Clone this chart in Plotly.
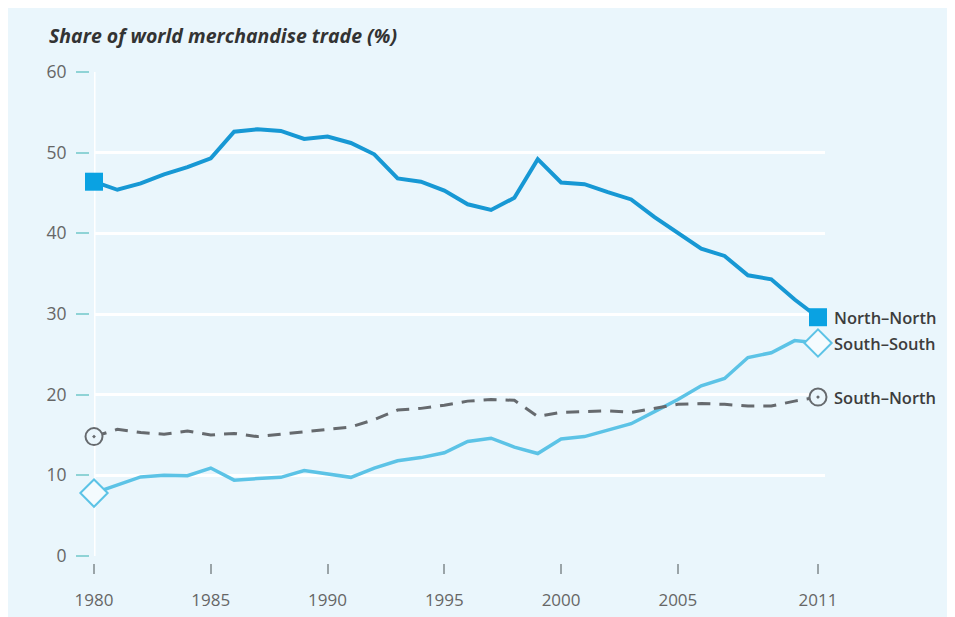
import plotly.graph_objects as go

years = list(range(1980, 2012))
north_north = [46.4, 45.4, 46.2, 47.3, 48.2, 49.3, 52.6, 52.9, 52.7, 51.7, 52.0, 51.2,
               49.8, 46.8, 46.4, 45.3, 43.6, 42.9, 44.4, 49.2, 46.3, 46.1, 45.1, 44.2,
               42.0, 40.1, 38.1, 37.2, 34.8, 34.3, 31.8, 29.6]
south_south = [7.8, 8.8, 9.8, 10.0, 9.95, 10.9, 9.4, 9.6, 9.75, 10.6, 10.2, 9.75,
               10.9, 11.8, 12.2, 12.8, 14.2, 14.6, 13.5, 12.7, 14.5, 14.8, 15.6, 16.4,
               17.9, 19.4, 21.1, 22.0, 24.6, 25.2, 26.7, 26.4]
south_north = [14.8, 15.7, 15.3, 15.1, 15.5, 15.0, 15.2, 14.8, 15.1, 15.4, 15.7, 16.0,
               16.9, 18.1, 18.3, 18.7, 19.2, 19.4, 19.3, 17.3, 17.8, 17.9, 18.0, 17.8,
               18.3, 18.8, 18.9, 18.8, 18.6, 18.6, 19.2, 19.7]
series_names = ["North\u2013North", "South\u2013South", "South\u2013North"]
x_tickvals = [1980, 1985, 1990, 1995, 2000, 2005, 2011]
y_tickvals = [0, 10, 20, 30, 40, 50, 60]
title_text = "Share of world merchandise trade (%)"

BG = "#eaf6fc"
NN_LINE = "#1798d4"
NN_MARK = "#0aa2e2"
SS_LINE = "#5cc3e6"
SN_LINE = "#666a6e"

fig = go.Figure()

fig.add_trace(go.Scatter(x=years, y=north_north, mode="lines",
                         line=dict(color=NN_LINE, width=4), cliponaxis=False, hoverinfo="skip"))
fig.add_trace(go.Scatter(x=years, y=south_south, mode="lines",
                         line=dict(color=SS_LINE, width=3.5), cliponaxis=False, hoverinfo="skip"))
fig.add_trace(go.Scatter(x=years, y=south_north, mode="lines",
                         line=dict(color=SN_LINE, width=3, dash="13px,9px"), cliponaxis=False,
                         hoverinfo="skip"))

ends = [0, -1]
fig.add_trace(go.Scatter(x=[years[i] for i in ends], y=[north_north[i] for i in ends], mode="markers",
                         marker=dict(symbol="square", size=18, color=NN_MARK, line=dict(width=0)),
                         cliponaxis=False))
fig.add_trace(go.Scatter(x=[years[i] for i in ends], y=[south_south[i] for i in ends], mode="markers",
                         marker=dict(symbol="diamond", size=21, color="#f4fbfe",
                                     line=dict(color=SS_LINE, width=2)),
                         cliponaxis=False))
fig.add_trace(go.Scatter(x=[years[i] for i in ends], y=[south_north[i] for i in ends], mode="markers",
                         marker=dict(symbol="circle-dot", size=17, color=BG,
                                     line=dict(color=SN_LINE, width=2)),
                         cliponaxis=False))

# end labels
for name, vals in zip(series_names, [north_north, south_south, south_north]):
    fig.add_annotation(x=years[-1], y=vals[-1], text=name, showarrow=False,
                       xanchor="left", yanchor="middle", xshift=14,
                       font=dict(family="Open Sans", size=16.5, color="#3d3d3d", weight=600))

W, H = 947, 609
L, R, T, B = 81, 130, 64, 54
pw, ph = W - L - R, H - T - B

# title
fig.add_annotation(xref="paper", yref="paper", x=(39 - L) / pw, y=(H - B - 27) / ph,
                   text=title_text, showarrow=False, xanchor="left", yanchor="middle",
                   font=dict(family="Open Sans", size=19.5, color="#333333", weight="bold",
                             style="italic"))

# white vertical axis line at 1980
fig.add_shape(type="line", xref="x", yref="y", x0=years[0], x1=years[0], y0=0, y1=60,
              line=dict(color="white", width=3), layer="below")

fig.update_layout(
    width=W, height=H,
    margin=dict(l=L, r=R, t=T, b=B, pad=0, autoexpand=False),
    paper_bgcolor=BG, plot_bgcolor=BG,
    showlegend=False,
    font=dict(family="Open Sans", color="#666666"),
    xaxis=dict(domain=[5 / pw, 1], range=[1980, 2011.3], anchor="free", position=0,
               tickvals=x_tickvals, ticktext=[str(v) for v in x_tickvals],
               ticks="outside", ticklen=10, tickwidth=1.5, tickcolor="#9aa4a8",
               showgrid=False, zeroline=False, showline=False, automargin=False,
               tickfont=dict(size=17, color="#666666"), ticklabelstandoff=12),
    yaxis=dict(domain=[7 / ph, 1], range=[0, 60], anchor="free", position=0,
               tickvals=y_tickvals, ticks="outside", ticklen=13, tickwidth=2,
               tickcolor="#8fd3d6", showgrid=True, gridcolor="white", gridwidth=3,
               zeroline=False, showline=False, automargin=False,
               tickfont=dict(size=17.5, color="#666666"), ticklabelstandoff=6),
)

fig.write_html("out.html")
